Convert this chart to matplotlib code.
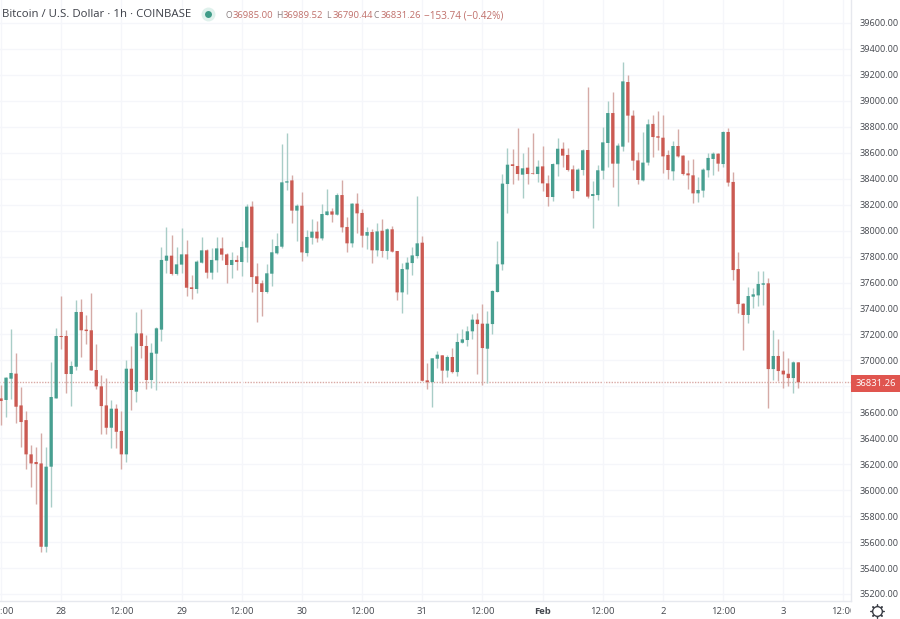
import numpy as np
import matplotlib
matplotlib.use("Agg")
import matplotlib.pyplot as plt
from matplotlib.patches import Rectangle

plt.rcParams["font.family"] = ["Open Sans", "DejaVu Sans"]

# hourly candles, first one is 27 Jan 12:00
opens = [
    36707, 36695, 36859, 36898, 36653, 36540, 36276, 36217, 36206, 35564,
    36181, 36707, 37188, 37188, 36895, 36951, 37373, 37237, 37232, 36926,
    36800, 36653, 36481, 36628, 36456, 36276, 36936, 36759, 37208, 37111,
    36849, 37052, 37237, 37768, 37807, 37666, 37738, 37817, 37563, 37550,
    37753, 37848, 37676, 37771, 37863, 37817, 37735, 37774, 37758, 37869,
    38185, 37648, 37594, 37527, 37668, 37825, 37876, 38370, 38387, 38154,
    38192, 37827, 37945, 37992, 37940, 38120, 38148, 38123, 38274, 38028,
    37902, 38208, 38136, 37961, 37989, 37848, 37999, 37843, 38010, 37843,
    37524, 37701, 37750, 37804, 37907, 36846, 36833, 37013, 37039, 36921,
    37026, 36910, 37136, 37157, 37224, 37314, 37283, 37090, 37280, 37527,
    37740, 38359, 38511, 38498, 38431, 38485, 38441, 38436, 38495, 38364,
    38259, 38511, 38631, 38583, 38472, 38305, 38467, 38621, 38267, 38274,
    38462, 38675, 38906, 38516, 38647, 39145, 38886, 38541, 38387, 38524,
    38822, 38727, 38716, 38583, 38457, 38652, 38578, 38441, 38426, 38287,
    38308, 38465, 38552, 38593, 38513, 38760, 38375, 37704, 37437, 37350,
    37491, 37501, 37583, 37594, 36933, 37034, 36921, 36897, 36864, 36985.00,
]
highs = [
    36810, 36874, 37239, 37059, 36797, 36610, 36348, 36335, 36438, 36335,
    36985, 37247, 37499, 37234, 36993, 37465, 37470, 37347, 37517, 37126,
    36887, 36862, 36695, 36664, 36612, 37003, 37111, 37373, 37393, 37196,
    37136, 37260, 37871, 38025, 37966, 37876, 38018, 37928, 37658, 37774,
    37953, 37856, 37863, 37953, 37953, 37825, 37838, 37812, 37922, 38203,
    38228, 37753, 37619, 37743, 37933, 37984, 38668, 38750, 38429, 38202,
    38295, 38005, 38087, 38074, 38205, 38318, 38177, 38292, 38390, 38102,
    38210, 38287, 38164, 38025, 38010, 38056, 38087, 38017, 38038, 37843,
    37753, 37794, 37876, 38267, 37961, 36982, 37021, 37075, 37044, 37039,
    37093, 37213, 37239, 37265, 37355, 37368, 37432, 37381, 37540, 37920,
    38434, 38639, 38629, 38788, 38596, 38647, 38750, 38544, 38655, 38429,
    38524, 38711, 38680, 38639, 38506, 38480, 38629, 39104, 38382, 38506,
    38801, 39001, 39066, 38673, 39302, 39199, 38930, 38603, 38757, 38858,
    38891, 38922, 38891, 38621, 38693, 38783, 38583, 38544, 38552, 38413,
    38480, 38596, 38608, 38596, 38768, 38788, 38449, 37833, 37445, 37568,
    37555, 37691, 37691, 37637, 37234, 37162, 37075, 37021, 36993, 36989.52,
]
lows = [
    36502, 36566, 36702, 36520, 36330, 36165, 36027, 35893, 35526, 35526,
    35867, 36707, 37090, 36746, 36648, 36926, 37029, 37126, 36923, 36777,
    36430, 36430, 36322, 36322, 36165, 36219, 36618, 36682, 37021, 36782,
    36784, 36772, 37152, 37676, 37658, 37658, 37671, 37499, 37476, 37522,
    37748, 37637, 37625, 37684, 37774, 37594, 37632, 37696, 37650, 37761,
    37529, 37298, 37342, 37522, 37573, 37820, 37863, 38313, 38056, 37922,
    37768, 37807, 37894, 37915, 37927, 38120, 38069, 38120, 37992, 37838,
    37876, 37979, 37876, 37856, 37748, 37804, 37799, 37779, 37835, 37465,
    37362, 37509, 37658, 37786, 36840, 36782, 36638, 36944, 36823, 36869,
    36905, 36882, 37131, 37111, 37165, 36895, 36810, 36823, 37203, 37527,
    37696, 38138, 38359, 38390, 38251, 38359, 38434, 38377, 38308, 38192,
    38226, 38421, 38493, 38462, 38254, 38305, 38429, 38254, 38020, 38236,
    38398, 38493, 38339, 38192, 38614, 38680, 38467, 38357, 38382, 38506,
    38565, 38621, 38447, 38398, 38390, 38570, 38429, 38321, 38210, 38223,
    38256, 38411, 38429, 38459, 38493, 38346, 37619, 37368, 37080, 37285,
    37401, 37419, 37427, 36635, 36849, 36843, 36790, 36805, 36751, 36790.44,
]
closes = [
    36687, 36867, 36903, 36643, 36525, 36276, 36206, 36201, 35564, 36181,
    36718, 37188, 37180, 36895, 36957, 37373, 37232, 37226, 36923, 36800,
    36648, 36481, 36628, 36450, 36276, 36936, 36772, 37208, 37111, 36849,
    37059, 37247, 37774, 37807, 37666, 37740, 37817, 37560, 37550, 37761,
    37848, 37676, 37774, 37863, 37815, 37735, 37774, 37758, 37874, 38185,
    37642, 37589, 37527, 37671, 37833, 37881, 38372, 38380, 38154, 38192,
    37832, 37951, 37992, 37940, 38128, 38148, 38123, 38274, 38025, 37902,
    38208, 38133, 37961, 37989, 37848, 37994, 37843, 38010, 37838, 37524,
    37704, 37753, 37809, 37902, 36843, 36833, 37016, 37044, 36921, 37026,
    36910, 37142, 37162, 37224, 37314, 37280, 37095, 37283, 37535, 37740,
    38362, 38508, 38498, 38436, 38480, 38436, 38436, 38493, 38364, 38259,
    38513, 38631, 38578, 38467, 38305, 38470, 38619, 38262, 38282, 38465,
    38680, 38906, 38516, 38655, 39150, 38886, 38539, 38390, 38524, 38819,
    38721, 38716, 38572, 38467, 38652, 38572, 38436, 38426, 38287, 38313,
    38470, 38560, 38593, 38516, 38760, 38370, 37696, 37434, 37350, 37496,
    37509, 37589, 37594, 36933, 37034, 36918, 36892, 36864, 36985, 36831.26,
]
time_labels = ["12:00", "28", "12:00", "29", "12:00", "30", "12:00", "31",
               "12:00", "Feb", "12:00", "2", "12:00", "3", "12:00"]
price_ticks = list(range(35200, 39601, 200))
last_price = 36831.26

W, H = 900, 619
GREEN = "#479f90"
RED = "#cb5a52"
GREEN_WICK = "#a9cdc7"
RED_WICK = "#d5aaa6"
GRID = "#f5f6fa"
TEXT = "#45484f"

fig = plt.figure(figsize=(W / 100, H / 100), dpi=100)
ax = fig.add_axes([0, 18 / H, 851 / W, 601 / H])
ax.set_xlim(-0.2, 169.5)
ax.set_ylim(35146, 39777)

o, h, l, c = map(np.array, (opens, highs, lows, closes))
x = np.arange(len(o))
up = c >= o
ax.vlines(x[up], l[up], h[up], color=GREEN_WICK, lw=1.0, zorder=2)
ax.vlines(x[~up], l[~up], h[~up], color=RED_WICK, lw=1.0, zorder=2)
up_bars = ax.bar(x[up], (c - o)[up], bottom=o[up], width=0.66, color=GREEN, lw=0, zorder=3)
down_bars = ax.bar(x[~up], (c - o)[~up], bottom=o[~up], width=0.66, color=RED, lw=0, zorder=3)
for bar in list(up_bars) + list(down_bars):
    bar.set_snap(False)

# grid and last price line, the 36800 label sits behind the price tag
tick_x = np.arange(len(time_labels)) * 12
ax.set_xticks(tick_x)
ax.set_xticklabels([])
ax.set_yticks(price_ticks)
ax.set_yticklabels(["" if p == 36800 else f"{p:.2f}" for p in price_ticks],
                   fontsize=6.6, color=TEXT)
ax.yaxis.tick_right()
ax.tick_params(length=0)
ax.tick_params(axis="y", pad=6)
ax.grid(color=GRID, lw=1, zorder=0)
ax.axhline(last_price, color="#d9a9a5", lw=1, ls=(0, (1, 1)), zorder=1)
for side in ("top", "left"):
    ax.spines[side].set_visible(False)
for side in ("right", "bottom"):
    ax.spines[side].set_color("#e6e8ee")
    ax.spines[side].set_linewidth(1)

# time axis, labels cut off at the scale edge
ax_time = fig.add_axes([0, 0, 851 / W, 18 / H], sharex=ax)
ax_time.set_ylim(0, 1)
ax_time.axis("off")
for t, label in zip(tick_x, time_labels):
    ax_time.text(t, 0.42, label, ha="center", va="center", fontsize=6.8, color=TEXT,
                 fontweight="bold" if label == "Feb" else "normal", clip_on=True)

# header, price tag and gear drawn on a pixel overlay
over = fig.add_axes([0, 0, 1, 1], facecolor="none")
over.set_xlim(0, W)
over.set_ylim(H, 0)
over.axis("off")

over.add_patch(Rectangle((851, 375), 49, 17, fc="#e0554f", ec="none", zorder=5))
over.text(875.5, 383, f"{last_price:.2f}", color="white", fontsize=6.8,
          ha="center", va="center", zorder=6)

over.text(2, 14.5, "Bitcoin / U.S. Dollar · 1h · COINBASE", fontsize=8.2, color="#3c3f47",
          va="center", ha="left")
over.plot([207.5], [14], "o", ms=10, color="#dff1ec", mew=0)
over.plot([207.5], [14], "o", ms=5, color="#3f9c88", mew=0)

RED_VAL = "#c0706b"
LETTER = "#8a7f80"
for px, letter, value in [(226, "O", "36985.00"), (276, "H", "36989.52"),
                          (326, "L", "36790.44"), (374, "C", "36831.26")]:
    over.text(px, 15.5, letter, fontsize=6.2, color=LETTER, va="center", ha="left")
    over.text(px + 7, 15.5, value, fontsize=6.8, color=RED_VAL, va="center", ha="left")
over.text(424, 15.5, "−153.74 (−0.42%)", fontsize=7.2, color=RED_VAL, va="center", ha="left")

over.plot([877], [611], marker=(8, 2, 0), ms=10, mec="#3a3d45", mew=0.9)
over.plot([877], [611], marker="o", ms=7, mfc="white", mec="#3a3d45", mew=1)

fig.savefig("out.png", dpi=100, facecolor="white")
plt.close(fig)
